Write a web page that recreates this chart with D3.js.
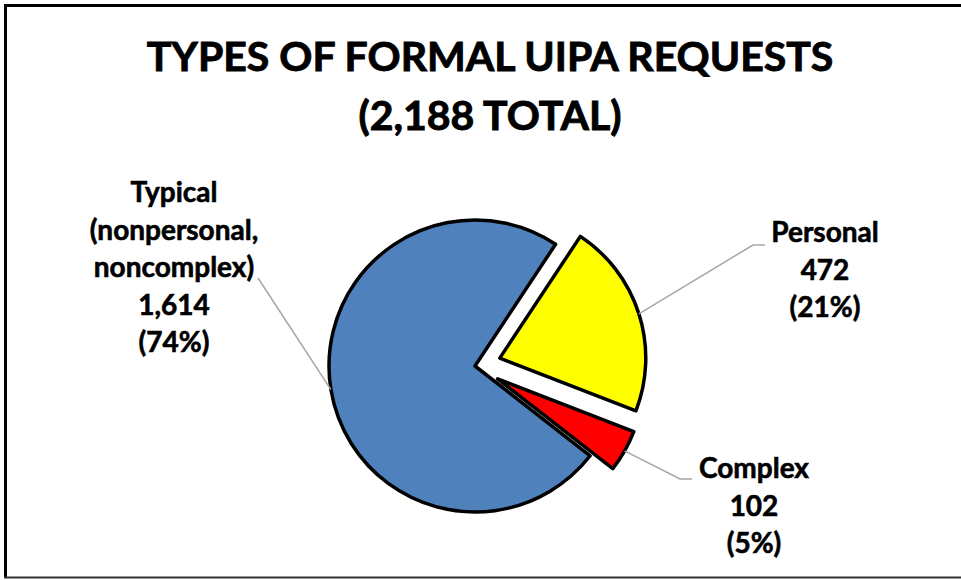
<!DOCTYPE html>
<html>
<head>
<meta charset="utf-8">
<script src="https://cdn.jsdelivr.net/npm/d3@7"></script>
<style>
  body { margin: 0; background: #fff; }
  text { font-family: Lato, "Open Sans", sans-serif; font-weight: bold; fill: #000; stroke: #000; stroke-width: 0.6px; }
</style>
</head>
<body>
<svg width="961" height="580"></svg>
<script>
// DATA
let categories = ["Personal", "Complex", "Typical"]
let values = [472, 102, 1614]
let percentLabels = ["(21%)", "(5%)", "(74%)"]
let nameLines = [["Personal"], ["Complex"], ["Typical", "(nonpersonal,", "noncomplex)"]]
let titleLines = ["TYPES OF FORMAL UIPA REQUESTS", "(2,188 TOTAL)"]
let colors = ["#ffff00", "#ff0000", "#4f81bd"]
let exploded = [true, true, false]

let svgWidth = 961
let svgHeight = 580

let svg = d3.select("svg")
  .attr("width", svgWidth)
  .attr("height", svgHeight)

// FRAME
svg.append("line").attr("x1", 4).attr("x2", svgWidth).attr("y1", 5.5).attr("y2", 5.5)
  .attr("stroke", "#000").attr("stroke-width", 3)
svg.append("line").attr("x1", 5.5).attr("x2", 5.5).attr("y1", 4).attr("y2", 578)
  .attr("stroke", "#000").attr("stroke-width", 3)
svg.append("line").attr("x1", 4).attr("x2", svgWidth).attr("y1", 577.5).attr("y2", 577.5)
  .attr("stroke", "#333").attr("stroke-width", 2)

// TITLE
svg.selectAll(".title")
  .data(titleLines)
  .enter()
  .append("text")
  .attr("class", "title")
  .attr("x", 490)
  .attr("y", (d, i) => 71 + i * 59)
  .attr("text-anchor", "middle")
  .style("font-size", "41px")
  .style("stroke-width", "0.9px")
  .text(d => d)

// PIE
let cx = 475
let cy = 366
let radius = 146
let explode = 26

let pie = d3.pie()
  .sort(null)
  .value(d => d)
  .startAngle(33.5 * Math.PI / 180)
  .endAngle(33.5 * Math.PI / 180 + 2 * Math.PI)

let arcs = pie(values)

let arc = d3.arc()
  .innerRadius(0)
  .outerRadius(radius)

function offsetOf(d, i) {
  if (!exploded[i]) return [0, 0]
  let mid = (d.startAngle + d.endAngle) / 2
  return [Math.sin(mid) * explode, -Math.cos(mid) * explode]
}

let g = svg.append("g")
  .attr("transform", `translate(${cx}, ${cy})`)

g.selectAll("path")
  .data(arcs)
  .enter()
  .append("path")
  .attr("d", arc)
  .attr("transform", (d, i) => {
    let o = offsetOf(d, i)
    return `translate(${o[0]}, ${o[1]})`
  })
  .attr("fill", (d, i) => colors[i])
  .attr("stroke", "#000")
  .attr("stroke-width", 3.5)
  .attr("stroke-linejoin", "round")

// LEADER LINES (end points are label anchors)
let leaderEnds = [
  [[753, 245], [765, 245]],
  [[680, 479], [692, 479]],
  [[258, 278]]
]

let line = d3.line()

g.selectAll(".leader")
  .data(arcs)
  .enter()
  .append("path")
  .attr("class", "leader")
  .attr("fill", "none")
  .attr("stroke", "#a6a6a6")
  .attr("stroke-width", 1.5)
  .attr("d", (d, i) => {
    let o = offsetOf(d, i)
    let mid = (d.startAngle + d.endAngle) / 2
    let start = [o[0] + Math.sin(mid) * radius, o[1] - Math.cos(mid) * radius]
    let pts = [start].concat(leaderEnds[i].map(p => [p[0] - cx, p[1] - cy]))
    return line(pts)
  })

// DATA LABELS
let labelPos = [[825, 242], [754, 478], [174, 202]]
let lineGap = 37.5

arcs.forEach((d, i) => {
  let lines = nameLines[i].concat([d3.format(",")(values[i]), percentLabels[i]])
  svg.append("g")
    .selectAll("text")
    .data(lines)
    .enter()
    .append("text")
    .attr("x", labelPos[i][0])
    .attr("y", (t, j) => labelPos[i][1] + j * lineGap)
    .attr("text-anchor", "middle")
    .style("font-size", "28px")
    .text(t => t)
})
</script>
</body>
</html>
